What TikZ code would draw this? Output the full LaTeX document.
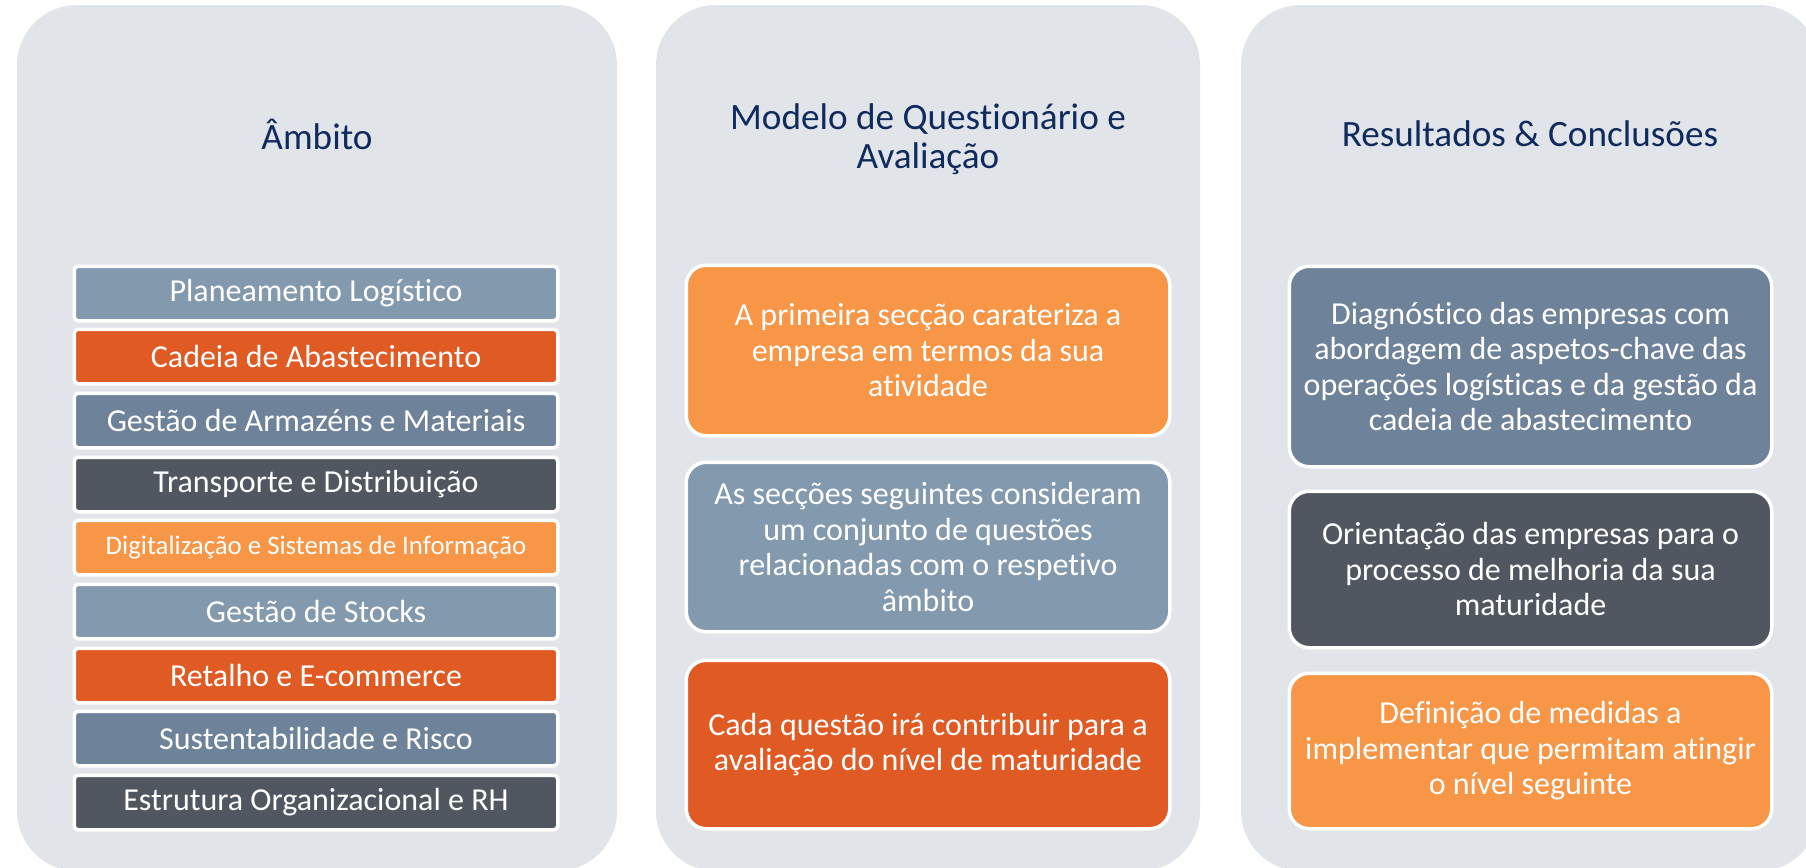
\documentclass[tikz,border=0pt]{standalone}
\usepackage{fontspec}
\setmainfont{Carlito}[Ligatures=NoCommon]
\definecolor{panelbg}{HTML}{E1E5EA}
\definecolor{titleblue}{HTML}{0F2A5C}
\definecolor{steel}{HTML}{8399AE}
\definecolor{steeldark}{HTML}{6E8299}
\definecolor{rust}{HTML}{E05A24}
\definecolor{slate}{HTML}{505760}
\definecolor{apricot}{HTML}{F79646}
\tikzset{
  panel/.style={fill=panelbg, rounded corners=30pt, inner sep=0pt},
  ttl/.style={text=titleblue, align=center, font=\fontsize{18.6}{19.5}\selectfont},
  listbox/.style={draw=white, line width=1.75pt, rounded corners=2pt, inner sep=0pt,
     minimum width=241.75pt, minimum height=27.25pt, text=white,
     font=\fontsize{16}{18}\selectfont},
  bigbox/.style={draw=white, line width=1.75pt, rounded corners=10pt, inner sep=0pt,
     text=white, align=center, font=\fontsize{16}{17.75}\selectfont},
}
\begin{document}
\begin{tikzpicture}[x=0.5pt,y=-0.5pt]
\clip (0,0) rectangle (1806,868);
% panels
\node[panel, minimum width=300pt, minimum height=433pt] (p1) at (317,438) {};
\node[panel, minimum width=272pt, minimum height=433pt] (p2) at (928,438) {};
\node[panel, minimum width=289pt, minimum height=433pt] (p3) at (1530,438) {};
% titles
\node[ttl] (t1) at (317,134) {Âmbito};
\node[ttl] (t2) at (928,139) {Modelo de Questionário e\\Avaliação};
\node[ttl] (t3) at (1530,134) {Resultados \& Conclusões};
% left list
\node[listbox, fill=steel]     (l1) at (316,293.5) {Planeamento Logístico};
\node[listbox, fill=rust]      (l2) at (316,356.5) {Cadeia de Abastecimento};
\node[listbox, fill=steeldark] (l3) at (316,420.5) {Gestão de Armazéns e Materiais};
\node[listbox, fill=slate]     (l4) at (316,484.5) {Transporte e Distribuição};
\node[listbox, fill=apricot, font=\fontsize{13.4}{15}\selectfont] (l5) at (316,547.5) {Digitalização e Sistemas de Informação};
\node[listbox, fill=steel]     (l6) at (316,611.5) {Gestão de Stocks};
\node[listbox, fill=rust]      (l7) at (316,675.5) {Retalho e E-commerce};
\node[listbox, fill=steeldark] (l8) at (316,738.5) {Sustentabilidade e Risco};
\node[listbox, fill=slate]     (l9) at (316,802.5) {Estrutura Organizacional e RH};
% middle boxes
\node[bigbox, fill=apricot, minimum width=241.75pt, minimum height=85.25pt] (m1) at (928,350.5)
  {A primeira secção carateriza a\\empresa em termos da sua\\atividade};
\node[bigbox, fill=steel, minimum width=241.75pt, minimum height=84.75pt] (m2) at (928,547)
  {As secções seguintes consideram\\um conjunto de questões\\relacionadas com o respetivo\\âmbito};
\node[bigbox, fill=rust, minimum width=241.75pt, minimum height=84.25pt] (m3) at (928,744.5)
  {Cada questão irá contribuir para a\\avaliação do nível de maturidade};
% right boxes
\node[bigbox, fill=steeldark, minimum width=241.25pt, minimum height=100.25pt] (r1) at (1530.5,366.5)
  {Diagnóstico das empresas com\\abordagem de aspetos-chave das\\operações logísticas e da gestão da\\cadeia de abastecimento};
\node[bigbox, fill=slate, minimum width=241.25pt, minimum height=78.25pt] (r2) at (1530.5,569.5)
  {Orientação das empresas para o\\processo de melhoria da sua\\maturidade};
\node[bigbox, fill=apricot, minimum width=241.25pt, minimum height=77.75pt] (r3) at (1530.5,751)
  {Definição de medidas a\\implementar que permitam atingir\\o nível seguinte};
\end{tikzpicture}
\end{document}
